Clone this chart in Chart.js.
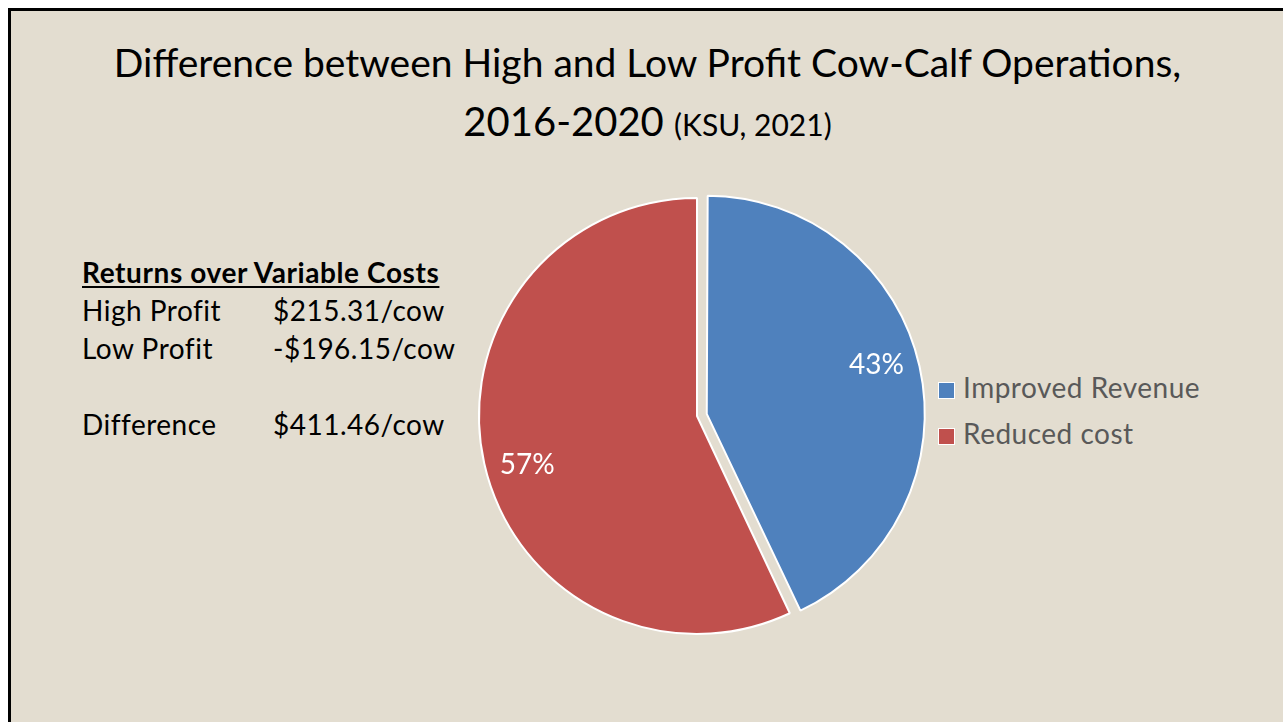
<!DOCTYPE html>
<html>

<head>
	<meta charset="utf-8">
	<script src="https://cdn.jsdelivr.net/npm/chart.js@4.4.1/dist/chart.umd.min.js"></script>
	<style>
		html, body { margin: 0; padding: 0; background: #fff; overflow: hidden; }
		body { width: 1283px; height: 722px; position: relative; font-family: Lato, "Open Sans", sans-serif; }
		#frame {
			position: absolute; left: 8px; top: 8px; width: 1300px; height: 740px;
			border-left: 3px solid #000; border-top: 3px solid #000;
			background: #E3DDD0;
		}
		.abs { position: absolute; white-space: nowrap; }
		#title1 { left: 0; width: 1295px; top: 43px; text-align: center; font-size: 39px; line-height: 39px; color: #000; }
		#title2 { left: 0; width: 1295px; top: 101px; text-align: center; font-size: 40px; line-height: 40px; color: #000; }
		#title2 small { font-size: 30px; }
		#returns { left: 82px; top: 253px; font-size: 28px; line-height: 38px; color: #000; letter-spacing: 0.5px; }
		#returns .head { font-weight: bold; text-decoration: underline; text-decoration-thickness: 2px; text-underline-offset: 3px; letter-spacing: 0.6px; }
		#returns .val { position: absolute; left: 191px; }
		#legend { left: 938px; top: 364px; font-size: 28px; line-height: 46px; color: #595959; letter-spacing: 0.5px; }
		#legend .sw { display: inline-block; width: 15px; height: 15px; border: 1.5px solid #fff; margin-right: 8px; vertical-align: -1px; }
		#chart-wrap { position: absolute; left: 0; top: 0; width: 1283px; height: 722px; }
	</style>
	<script>
		// Chart data
		const labels = ['Improved Revenue', 'Reduced cost'];
		const shares = [43, 57];
		const colors = ['#4F81BD', '#C0504D'];
		const explode = [40, 0];

		// Returns over variable costs table
		const returnLabels = ['High Profit', 'Low Profit', '', 'Difference'];
		const returnValues = ['$215.31/cow', '-$196.15/cow', '', '$411.46/cow'];
	</script>
</head>

<body>
	<div id="frame"></div>
	<div class="abs" id="title1">Difference between High and Low Profit Cow-Calf Operations,</div>
	<div class="abs" id="title2">2016-2020 <small>(KSU, 2021)</small></div>
	<div class="abs" id="returns"></div>
	<div class="abs" id="legend"></div>
	<div id="chart-wrap"><canvas id="pie"></canvas></div>

	<script>
		// left text block
		const ret = document.getElementById('returns');
		let html = '<div class="head">Returns over Variable Costs</div>';
		for (let i = 0; i < returnLabels.length; i++) {
			html += '<div style="position:relative;height:38px">' + returnLabels[i] +
				'<span class="val">' + returnValues[i] + '</span></div>';
		}
		ret.innerHTML = html;

		// legend
		document.getElementById('legend').innerHTML = labels.map((l, i) =>
			'<div><span class="sw" style="background:' + colors[i] + '"></span>' + l + '</div>').join('');

		// chart.js grows an exploded arc a little, keep it at the pie radius
		const keepRadius = {
			id: 'keepRadius',
			beforeDatasetsDraw(chart) {
				const meta = chart.getDatasetMeta(0);
				meta.data.forEach((arc, i) => {
					const off = (explode[i] || 0) / 4;
					if (!off) return;
					const circ = arc.endAngle - arc.startAngle;
					const fix = 1 - Math.sin(Math.min(Math.PI, circ));
					arc.outerRadius = chart.options.radius - off * fix;
				});
			}
		};

		// percent labels inside the slices
		const pctLabels = {
			id: 'pctLabels',
			afterDatasetsDraw(chart) {
				const ctx = chart.ctx;
				const meta = chart.getDatasetMeta(0);
				const total = shares.reduce((a, b) => a + b, 0);
				ctx.save();
				ctx.font = '28px Lato, "Open Sans", sans-serif';
				ctx.fillStyle = '#fff';
				ctx.textAlign = 'center';
				ctx.textBaseline = 'middle';
				meta.data.forEach((arc, i) => {
					const mid = (arc.startAngle + arc.endAngle) / 2;
					const shift = (explode[i] || 0) / 4;
					const cx = arc.x + Math.cos(mid) * shift;
					const cy = arc.y + Math.sin(mid) * shift;
					const a = mid - 0.06;
					const r = chart.options.radius * 0.81;
					ctx.fillText(Math.round(shares[i] / total * 100) + '%',
						cx + Math.cos(a) * r, cy + Math.sin(a) * r);
				});
				ctx.restore();
			}
		};

		new Chart(document.getElementById('pie'), {
			type: 'pie',
			data: {
				labels: labels,
				datasets: [{
					data: shares,
					backgroundColor: colors,
					borderColor: '#fff',
					borderWidth: 2,
					offset: explode
				}]
			},
			options: {
				responsive: true,
				maintainAspectRatio: false,
				animation: false,
				radius: 218,
				layout: {
					padding: { left: 473, right: 362, top: 192, bottom: 82 }
				},
				plugins: {
					legend: { display: false },
					tooltip: { enabled: false }
				}
			},
			plugins: [keepRadius, pctLabels]
		});
	</script>
</body>

</html>
